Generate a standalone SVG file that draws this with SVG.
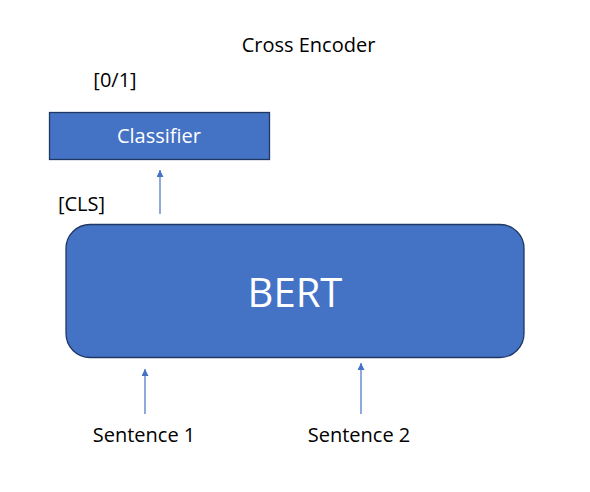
<svg xmlns="http://www.w3.org/2000/svg" width="590" height="492" viewBox="0 0 590 492">
<style>
.t{font-family:"Open Sans","Liberation Sans",sans-serif;font-size:20px;fill:#000}
.w{fill:#fff}
.box{fill:#4472C4;stroke:#1F3864;stroke-width:1.3}
.c{stroke:#4472C4;stroke-width:1.2;fill:none}
</style>
<defs>
<marker id="ah" viewBox="0 0 10 10" refX="10" refY="5" markerWidth="7" markerHeight="7" markerUnits="userSpaceOnUse" orient="auto">
<path d="M0,0 L10,5 L0,10 z" fill="#4472C4"/>
</marker>
</defs>
<rect width="590" height="492" fill="#fff"/>
<text class="t" x="308.5" y="52" text-anchor="middle">Cross Encoder</text>
<text class="t" x="115" y="87" text-anchor="middle">[0/1]</text>
<text class="t" x="81.5" y="211" text-anchor="middle">[CLS]</text>
<g id="classifier">
<rect class="box" x="49.5" y="112.5" width="220" height="47"/>
<text class="t w" x="159" y="143" text-anchor="middle">Classifier</text>
</g>
<g id="bert">
<rect class="box" x="66" y="224.5" width="458" height="133" rx="24"/>
<text class="t w" x="295" y="307" text-anchor="middle" style="font-size:40px">BERT</text>
</g>
<g id="s1"><text class="t" x="144" y="442" text-anchor="middle">Sentence 1</text></g>
<g id="s2"><text class="t" x="359" y="442" text-anchor="middle">Sentence 2</text></g>
<g id="connectors">
<line class="c" x1="160" y1="214" x2="160" y2="170" marker-end="url(#ah)"/>
<line class="c" x1="145" y1="414" x2="145" y2="369" marker-end="url(#ah)"/>
<line class="c" x1="361" y1="414" x2="361" y2="363" marker-end="url(#ah)"/>
</g>
</svg>
